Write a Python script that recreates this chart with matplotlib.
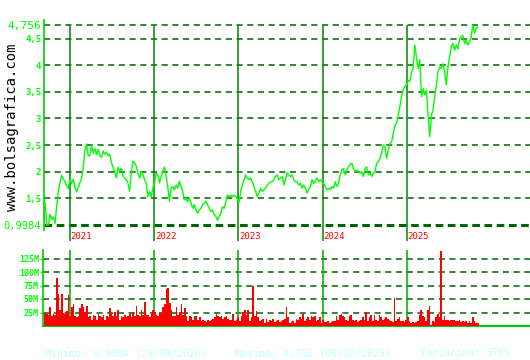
import numpy as np
import matplotlib
matplotlib.use("Agg")
import matplotlib.pyplot as plt
import matplotlib.dates as mdates

plt.rcParams['font.family'] = ['DejaVu Sans Mono']

# Price data (roughly weekly)
price_start = "2020-09-15"
price_end = "2025-11-04"
prices = [
    1.41, 0.9984, 1.0, 1.2, 1.1, 1.15, 1.03, 1.35, 1.64, 1.8, 1.93, 1.86, 1.82, 1.73, 1.68, 1.86,
    1.78, 1.86, 1.7, 1.62, 1.7, 1.79, 1.88, 2.07, 2.4, 2.52, 2.3, 2.3, 2.5, 2.35, 2.44, 2.32,
    2.42, 2.3, 2.27, 2.39, 2.33, 2.36, 2.3, 2.33, 2.17, 2.08, 2.0, 1.88, 2.08, 2.0, 2.07, 1.92,
    1.88, 1.85, 1.78, 1.63, 1.98, 2.2, 2.17, 2.1, 1.97, 1.88, 2.0, 1.95, 1.85, 1.78, 1.53, 1.63,
    1.53, 1.69, 1.79, 1.97, 1.94, 1.79, 1.91, 2.0, 2.09, 1.91, 1.72, 1.44, 1.69, 1.72, 1.66, 1.75,
    1.69, 1.82, 1.72, 1.63, 1.47, 1.5, 1.44, 1.5, 1.41, 1.31, 1.38, 1.28, 1.22, 1.28, 1.31, 1.38,
    1.41, 1.44, 1.38, 1.31, 1.25, 1.28, 1.19, 1.16, 1.09, 1.16, 1.22, 1.34, 1.31, 1.44, 1.56, 1.53,
    1.56, 1.53, 1.56, 1.53, 1.5, 1.42,
    1.63, 1.75, 1.85, 1.94, 1.88, 1.85, 1.88, 1.81, 1.72, 1.63, 1.53, 1.6, 1.69, 1.63, 1.66, 1.69,
    1.75, 1.78, 1.81, 1.81, 1.85, 1.91, 1.94, 1.85, 1.88, 1.91, 1.75, 1.85, 1.98, 1.94, 1.91, 1.94,
    1.85, 1.81, 1.81, 1.75, 1.78, 1.69, 1.75, 1.69, 1.6, 1.66, 1.72, 1.85, 1.78, 1.81, 1.88, 1.81,
    1.85, 1.81, 1.78, 1.72, 1.66, 1.69, 1.66, 1.72, 1.69, 1.81, 1.72, 1.78, 1.94, 2.03, 2.06, 1.94,
    2.03, 2.09, 2.13, 2.16, 2.06, 2.0, 2.03, 2.0, 1.97, 2.0, 1.91, 2.06, 2.09, 1.94, 1.97, 1.91,
    1.97, 2.0, 2.16, 2.19, 2.25, 2.35, 2.5, 2.47, 2.25, 2.41, 2.53, 2.56, 2.72,
    2.88, 2.91, 3.07, 3.22, 3.41, 3.55, 3.6, 3.63, 3.72, 3.69, 3.88, 3.94, 4.38, 4.15, 3.94, 4.1,
    3.41, 3.56, 3.44, 3.53, 3.06, 2.66, 3.06, 3.16, 3.41, 3.63, 3.88, 3.97, 3.94, 4.03, 3.88, 3.63,
    3.97, 4.16, 4.35, 4.41, 4.28, 4.38, 4.31, 4.5, 4.53, 4.56, 4.41, 4.47, 4.38, 4.44, 4.53, 4.756,
    4.6, 4.69, 4.72,
]

# Volume (millions)
volumes = [
    25, 23, 21, 35, 19, 23, 21, 88, 60, 30, 60, 25, 23, 28, 57, 19,
    35, 41, 19, 17, 18, 33, 40, 35, 26, 37, 17, 18, 12, 21, 18, 12,
    23, 18, 17, 21, 12, 19, 17, 33, 23, 19, 26, 19, 30, 12, 19, 17,
    21, 17, 18, 23, 17, 26, 19, 37, 21, 19, 30, 21, 45, 21, 20, 17,
    23, 30, 26, 21, 19, 26, 23, 35, 40, 68, 70, 42, 30, 19, 19, 35,
    21, 26, 40, 21, 33, 19, 9,
    18, 17, 12, 19, 18, 12, 17, 9, 12, 9, 8, 11, 9, 12, 13, 16,
    23, 19, 17, 18, 13, 16, 19, 13, 12, 12, 23, 9, 11, 16, 9, 19,
    26, 30, 21, 30, 9, 17, 75, 19, 28, 17, 9, 12, 13, 6, 13, 8,
    12, 9, 13, 8, 9, 12, 8, 9, 11, 13, 35, 17, 6, 8, 9, 6,
    13, 12, 16, 13, 23, 9, 13, 16, 12, 19, 17, 18, 9, 12, 16, 6,
    11, 8, 8, 9, 6, 8, 9,
    9, 18, 12, 21, 23, 19, 17, 12, 9, 19, 21, 12, 9, 11, 8, 9,
    11, 16, 12, 26, 9, 16, 21, 9, 21, 12, 9, 21, 17, 11, 13, 16,
    13, 11, 9, 8, 51, 9, 13, 16, 9, 9, 8, 12, 16, 9, 6, 8,
    6, 8, 9, 21, 30, 19, 17, 9, 30, 37, 2, 9, 8, 16, 23, 17,
    138, 12, 19, 11, 12, 9, 11, 11, 11, 9, 9, 11, 8, 9, 8, 9,
    6, 9, 6, 16, 9, 5, 5,
]

years = [2021, 2022, 2023, 2024, 2025]
price_ticks = [0.9984, 1.5, 2, 2.5, 3, 3.5, 4, 4.5, 4.756]
price_tick_labels = ["0,9984", "1,5", "2", "2,5", "3", "3,5", "4", "4,5", "4,756"]
vol_ticks = [25, 50, 75, 100, 125]
vol_tick_labels = ["25M", "50M", "75M", "100M", "125M"]

info_texts = ["Minimo: 0,9984 (29/09/2020)", "Maximo: 4,756 (09/10/2025)", "Variación: 376%"]

W, H = 530, 360
fig = plt.figure(figsize=(W / 100, H / 100), dpi=100)
fig.patch.set_facecolor("white")

# pixel helpers
def box(left, top, right, bottom):
    return [left / W, 1 - bottom / H, (right - left) / W, (bottom - top) / H]

ax = fig.add_axes(box(44, 20, 530, 230))
axv = fig.add_axes(box(43, 250, 530, 326))

# x scale: 2021-01-01 at px 70, 84.25 px per year
ref = mdates.datestr2num("2021-01-01")
px_year = 84.25
xmin = ref - 26 / px_year * 365.25
xmax = ref + 460 / px_year * 365.25

x_price = np.linspace(mdates.datestr2num(price_start), mdates.datestr2num(price_end), len(prices))
x_vol = np.linspace(mdates.datestr2num(price_start), mdates.datestr2num(price_end), len(volumes))
year_x = [mdates.datestr2num(f"{y}-01-01") for y in years]

# ---- price panel
px_unit = 53.0
ax.set_xlim(xmin, xmax)
ax.set_ylim(0.9984 - 5 / px_unit, 4.756 + 5 / px_unit)

for v in price_ticks:
    if v == 0.9984:
        ax.axhline(v, color="#006400", lw=2.2, ls=(0, (2.5, 1.5)), zorder=1)
    else:
        ax.axhline(v, color="#006400", lw=1.1, ls=(0, (4, 3)), zorder=1)

ax.vlines(year_x, 0.9984 - 16 / px_unit, 4.756, color="#008800", lw=1.1, clip_on=False, zorder=2)
for yx, y in zip(year_x, years):
    ax.text(yx + 3, 0.9984 - 11 / px_unit, str(y), color="#ff0000", fontsize=6.5,
            ha="left", va="center", clip_on=False)

ax.plot(x_price, prices, color="#00ff00", lw=1.0, zorder=3)

for s in ["top", "right", "bottom"]:
    ax.spines[s].set_visible(False)
ax.spines["left"].set_color("#00cc00")
ax.spines["left"].set_linewidth(1.2)
ax.set_xticks([])
ax.set_yticks(price_ticks)
ax.set_yticklabels(price_tick_labels)
ax.tick_params(axis="y", length=0, pad=2, colors="#00ff00")
for lab in ax.get_yticklabels():
    t = lab.get_text()
    if t == "4,756":
        lab.set_fontsize(8)
    elif t == "0,9984":
        lab.set_fontsize(7.5)
    else:
        lab.set_fontsize(6.5)
        lab.set_fontweight("bold")

# ---- volume panel
axv.set_xlim(xmin - 1 / px_year * 365.25, xmax)
axv.set_ylim(0, 76 / 13.5 * 25)
for v in vol_ticks:
    axv.axhline(v, color="#006400", lw=1.1, ls=(0, (4, 3)), zorder=1)
axv.vlines(year_x, 0, 76 / 13.5 * 25, color="#00aa00", lw=1.1, zorder=2)
bar_w = (x_vol[1] - x_vol[0])
axv.bar(x_vol, volumes, width=bar_w, color="#ff0000", align="center", zorder=3, linewidth=0)

for s in ["top", "right"]:
    axv.spines[s].set_visible(False)
axv.spines["left"].set_color("#00cc00")
axv.spines["bottom"].set_color("#00cc00")
axv.spines["left"].set_linewidth(1.2)
axv.spines["bottom"].set_linewidth(1.5)
axv.set_xticks([])
axv.set_yticks(vol_ticks)
axv.set_yticklabels(vol_tick_labels, fontsize=6, fontweight="bold")
axv.tick_params(axis="y", length=2, width=1, pad=1, colors="#00ff00")

# ---- texts
fig.text(12 / W, 1 - 127 / H, "www.bolsagrafica.com", rotation=90, fontsize=10,
         color="black", ha="center", va="center")
for xp, t in zip([45, 235, 420], info_texts):
    fig.text(xp / W, 1 - 353 / H, t, fontsize=7.2, color="#c0ffff", ha="left", va="center")

fig.savefig("out.png", dpi=100, facecolor="white")
